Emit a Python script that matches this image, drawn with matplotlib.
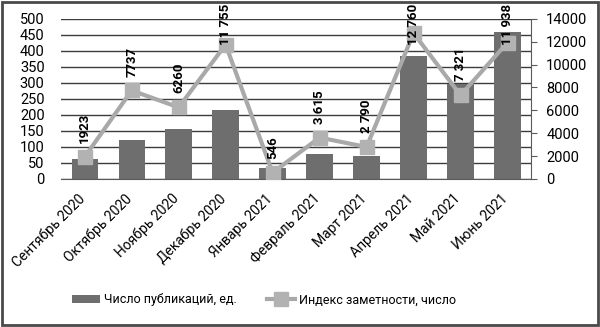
import numpy as np
import matplotlib.pyplot as plt
import matplotlib.transforms as mtransforms
from matplotlib.patches import Rectangle

plt.rcParams['font.family'] = ['Roboto', 'DejaVu Sans']

# Data
months = ['Сентябрь 2020', 'Октябрь 2020', 'Ноябрь 2020', 'Декабрь 2020', 'Январь 2021',
          'Февраль 2021', 'Март 2021', 'Апрель 2021', 'Май 2021', 'Июнь 2021']
pubs = [63, 120, 157, 216, 33, 78, 72, 384, 297, 459]
index_vals = [1923, 7737, 6260, 11755, 546, 3615, 2790, 12760, 7321, 11938]
index_labels = ['1923', '7737', '6260', '11 755', '546', '3 615', '2 790', '12 760', '7 321', '11 938']

bar_col = '#6e6e6e'
line_col = '#a9a9a9'

fig = plt.figure(figsize=(6, 3.27), dpi=100)
ax = fig.add_axes([0.102, 0.453, 0.783, 0.489])
x = np.arange(len(months))

ax.bar(x, pubs, width=0.56, color=bar_col, zorder=2, label='Число публикаций, ед.')
ax.set_ylim(0, 500)
ax.set_yticks(np.arange(0, 501, 50))
ax.set_xlim(-0.5, len(months) - 0.5)
ax.grid(axis='y', color='#3c3c3c', linewidth=1.0, zorder=0)
for s in ['top', 'right', 'left']:
    ax.spines[s].set_visible(False)
ax.spines['bottom'].set_color('#5a5a5a')
ax.tick_params(axis='y', length=0, labelsize=10.5, pad=12)
ax.tick_params(axis='x', length=0, labelsize=10, pad=4)
ax.set_xticks(x)
ax.set_xticklabels(months, rotation=45, ha='right', rotation_mode='anchor')
shift = mtransforms.ScaledTranslation(-5 / 72, -5 / 72, fig.dpi_scale_trans)
for t in ax.get_xticklabels():
    t.set_transform(t.get_transform() + shift)

ax2 = ax.twinx()
ax2.plot(x, index_vals, color=line_col, linewidth=3, marker='s', markersize=9.5,
         markerfacecolor='#b2b2b2', markeredgecolor='#b2b2b2',
         zorder=3, label='Индекс заметности, число')
ax2.set_ylim(0, 14000)
ax2.set_yticks(np.arange(0, 14001, 2000))
for s in ['top', 'left', 'bottom']:
    ax2.spines[s].set_visible(False)
ax2.spines['right'].set_color('#5a5a5a')
ax2.tick_params(axis='y', length=4, color='#5a5a5a', labelsize=10.5, pad=7)

lab_off = 10
anns = []
for xi, v, lab in zip(x, index_vals, index_labels):
    anns.append(ax2.annotate(lab, (xi, v), xytext=(0, lab_off), textcoords='offset points',
                             rotation=90, ha='center', va='bottom', fontsize=9.5,
                             fontweight='bold', zorder=4))

h1, l1 = ax.get_legend_handles_labels()
h2, l2 = ax2.get_legend_handles_labels()
fig.legend(h1 + h2, l1 + l2, loc='center', bbox_to_anchor=(0.44, 0.083), ncol=2,
           frameon=False, fontsize=9, handlelength=2.25, columnspacing=2.4,
           handletextpad=0.3)

fig.patches.append(Rectangle((0.003, 0.005), 0.994, 0.99, transform=fig.transFigure,
                             fill=False, edgecolor='#4a4a4a', linewidth=2))

# keep labels inside the frame: push the tallest ones down
fig.canvas.draw()
r = fig.canvas.get_renderer()
top_px = fig.bbox.height - 4
for a in anns:
    bb = a.get_window_extent(r)
    if bb.y1 > top_px:
        a.xyann = (0, lab_off - (bb.y1 - top_px) * 72 / fig.dpi)

fig.savefig('out.png', dpi=100)
